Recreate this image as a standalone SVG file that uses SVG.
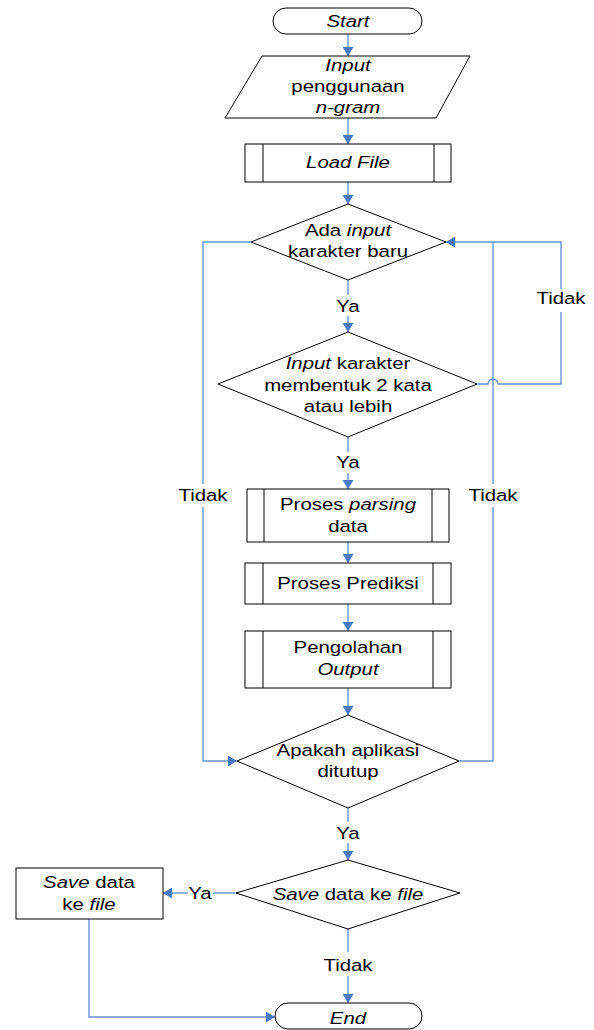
<svg xmlns="http://www.w3.org/2000/svg" width="594" height="1030" viewBox="0 0 594 1030">
  <style>
    .node { fill: #ffffff; stroke: #000000; stroke-width: 1; }
    .bar { fill: none; stroke: #000000; stroke-width: 1; }
    .conn { fill: none; stroke: #6892d4; stroke-width: 1.4; }
    .arrow { marker-end: url(#head); }
    text { font-family: "Liberation Sans", Arial, sans-serif; font-size: 17px; fill: #000000; text-anchor: middle; }
    .i { font-style: italic; }
  </style>
  <defs>
    <marker id="head" markerUnits="userSpaceOnUse" markerWidth="10" markerHeight="11" refX="9" refY="5.5" orient="auto">
      <path d="M0,0 L9,5.5 L0,11 z" fill="#4a78c2"/>
    </marker>
  </defs>
  <rect width="594" height="1030" fill="#ffffff"/>

  <!-- connectors -->
  <g id="connectors">
    <path class="conn arrow" d="M348,34 V56"/>
    <path class="conn arrow" d="M348,118 V144"/>
    <path class="conn arrow" d="M348,182 V204"/>
    <path class="conn" d="M348,280 V295"/>
    <path class="conn arrow" d="M348,316 V332"/>
    <path class="conn" d="M348,437 V452"/>
    <path class="conn arrow" d="M348,473 V489"/>
    <path class="conn arrow" d="M348,542 V563"/>
    <path class="conn arrow" d="M348,604 V631"/>
    <path class="conn arrow" d="M348,688 V715"/>
    <!-- left "Tidak" loop to Apakah -->
    <path class="conn" d="M251,242 H203 V484"/>
    <path class="conn arrow" d="M203,507 V761 H237"/>
    <!-- right "Tidak" loop from Apakah back to first decision -->
    <path class="conn" d="M459,761 H493 V507"/>
    <path class="conn arrow" d="M493,484 V242 H446"/>
    <!-- "Tidak" from second decision, hopping over the right loop -->
    <path class="conn" d="M477,384 H488 A5,5 0 0 1 498,384 H561 V312"/>
    <path class="conn" d="M561,289 V242 H493"/>
    <path class="conn" d="M348,808 V822"/>
    <path class="conn arrow" d="M348,843 V860"/>
    <path class="conn" d="M236,893 H213"/>
    <path class="conn arrow" d="M188,893 H163"/>
    <path class="conn" d="M348,929 V952"/>
    <path class="conn arrow" d="M348,976 V1003"/>
    <path class="conn arrow" d="M89,919 V1017 H275"/>
  </g>

  <g id="start">
    <rect class="node" x="273" y="8" width="149" height="26" rx="13"/>
    <text class="i" transform="translate(348 27) scale(1.2 1)">Start</text>
  </g>

  <g id="input-ngram">
    <polygon class="node" points="262,56 470,56 436,118 225,118"/>
    <text class="i" transform="translate(348 71) scale(1.2 1)">Input</text>
    <text transform="translate(348 92) scale(1.2 1)">penggunaan</text>
    <text class="i" transform="translate(348 113) scale(1.2 1)">n-gram</text>
  </g>

  <g id="load-file">
    <rect class="node" x="245" y="144" width="206" height="38"/>
    <path class="bar" d="M263,144 V182 M434,144 V182"/>
    <text class="i" transform="translate(348 168) scale(1.2 1)">Load File</text>
  </g>

  <g id="ada-input">
    <polygon class="node" points="348,204 446,242 348,280 251,242"/>
    <text transform="translate(348 236) scale(1.2 1)">Ada <tspan class="i">input</tspan></text>
    <text transform="translate(348 257) scale(1.2 1)">karakter baru</text>
  </g>

  <g id="dua-kata">
    <polygon class="node" points="348,332 477,384 348,437 218,384"/>
    <text transform="translate(348 369) scale(1.2 1)"><tspan class="i">Input</tspan> karakter</text>
    <text transform="translate(348 391) scale(1.2 1)">membentuk 2 kata</text>
    <text transform="translate(348 412) scale(1.2 1)">atau lebih</text>
  </g>

  <g id="parsing">
    <rect class="node" x="247" y="489" width="202" height="53"/>
    <path class="bar" d="M264,489 V542 M432,489 V542"/>
    <text transform="translate(348 510) scale(1.2 1)">Proses <tspan class="i">parsing</tspan></text>
    <text transform="translate(348 532) scale(1.2 1)">data</text>
  </g>

  <g id="prediksi">
    <rect class="node" x="245" y="563" width="206" height="41"/>
    <path class="bar" d="M263,563 V604 M433,563 V604"/>
    <text transform="translate(348 589) scale(1.2 1)">Proses Prediksi</text>
  </g>

  <g id="pengolahan">
    <rect class="node" x="245" y="631" width="206" height="57"/>
    <path class="bar" d="M263,631 V688 M433,631 V688"/>
    <text transform="translate(348 653) scale(1.2 1)">Pengolahan</text>
    <text class="i" transform="translate(348 675) scale(1.2 1)">Output</text>
  </g>

  <g id="ditutup">
    <polygon class="node" points="348,715 459,761 348,808 237,761"/>
    <text transform="translate(348 756) scale(1.2 1)">Apakah aplikasi</text>
    <text transform="translate(348 777) scale(1.2 1)">ditutup</text>
  </g>

  <g id="save-decision">
    <polygon class="node" points="348,860 460,893 348,929 236,893"/>
    <text transform="translate(348 900) scale(1.2 1)"><tspan class="i">Save</tspan> data ke <tspan class="i">file</tspan></text>
  </g>

  <g id="save-data">
    <rect class="node" x="16" y="868" width="147" height="51"/>
    <text transform="translate(89 888) scale(1.2 1)"><tspan class="i">Save</tspan> data</text>
    <text transform="translate(89 910) scale(1.2 1)">ke <tspan class="i">file</tspan></text>
  </g>

  <g id="end">
    <rect class="node" x="275" y="1003" width="147" height="26" rx="13"/>
    <text class="i" transform="translate(348 1024) scale(1.2 1)">End</text>
  </g>

  <g id="labels">
    <text transform="translate(348 312) scale(1.2 1)">Ya</text>
    <text transform="translate(561 304) scale(1.2 1)">Tidak</text>
    <text transform="translate(348 468) scale(1.2 1)">Ya</text>
    <text transform="translate(203 501) scale(1.2 1)">Tidak</text>
    <text transform="translate(493 501) scale(1.2 1)">Tidak</text>
    <text transform="translate(348 839) scale(1.2 1)">Ya</text>
    <text transform="translate(200 899) scale(1.2 1)">Ya</text>
    <text transform="translate(348 971) scale(1.2 1)">Tidak</text>
  </g>
</svg>
